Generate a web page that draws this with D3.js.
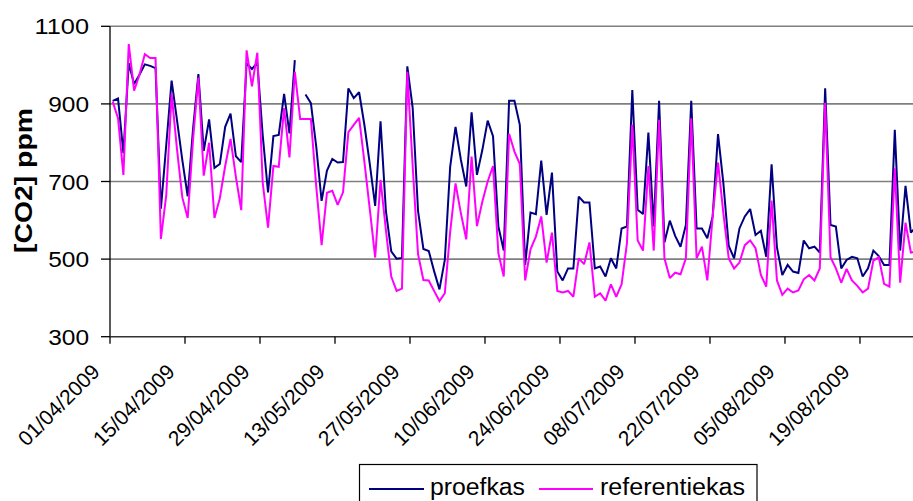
<!DOCTYPE html>
<html>
<head>
<meta charset="utf-8">
<script src="https://cdn.jsdelivr.net/npm/d3@7/dist/d3.min.js"></script>
<style>
  html, body { margin: 0; padding: 0; background: #fff; }
  svg { display: block; }
  text { font-family: "Liberation Sans", Arial, sans-serif; fill: #000; }
</style>
</head>
<body>
<svg id="chart" width="913" height="501"></svg>
<script>
// ---- data ----
const firstDay = "01/04/2009";
const lastDay = "29/08/2009";
const xTickLabels = ["01/04/2009","15/04/2009","29/04/2009","13/05/2009","27/05/2009",
  "10/06/2009","24/06/2009","08/07/2009","22/07/2009","05/08/2009","19/08/2009"];
const yTicks = [300, 500, 700, 900, 1100];
const seriesNames = ["proefkas", "referentiekas"];
const seriesColors = ["#000080", "#FF00FF"];

const proefkas = [
  908, 914, 773, 1005, 951, 975, 1002, 998, 992, 630,
  794, 960, 859, 755, 662, 835, 977, 779, 860, 735,
  745, 841, 875, 765, 750, 1004, 990, 1006, 820, 672,
  817, 820, 926, 824, 1013, null, 924, 902, 790, 650,
  728, 758, 749, 750, 940, 915, 930, 845, 745, 637,
  855, 624, 520, 501, 503, 997, 890, 624, 526, 521,
  469, 422, 498, 738, 841, 756, 687, 878, 717, 781,
  857, 817, 584, 522, 908, 908, 846, 485, 620, 616,
  754, 614, 723, 468, 445, 476, 476, 661, 646, 646,
  476, 481, 455, 502, 476, 579, 584, 936, 627, 616,
  826, 584, 908, 543, 599, 560, 532, 588, 908, 579,
  579, 554, 610, 822, 695, 534, 502, 579, 610, 629,
  562, 573, 506, 744, 530, 459, 485, 468, 464, 548,
  528, 532, 517, 940, 588, 584, 476, 498, 506, 502,
  455, 476, 522, 508, 485, 485, 833, 522, 689, 568,
  584
];
const referentiekas = [
  906, 863, 717, 1054, 934, 975, 1028, 1018, 1018, 552,
  665, 926, 784, 659, 606, 808, 968, 715, 800, 606,
  657, 740, 810, 712, 626, 1038, 945, 1032, 698, 581,
  740, 738, 889, 762, 983, 861, 861, 861, 687, 536,
  671, 676, 640, 672, 827, 846, 864, 749, 628, 504,
  704, 575, 455, 418, 424, 983, 740, 513, 446, 445,
  418, 392, 412, 570, 695, 618, 551, 764, 585, 648,
  700, 740, 515, 455, 823, 777, 745, 445, 525, 558,
  610, 491, 568, 418, 414, 418, 403, 502, 487, 543,
  403, 412, 393, 435, 403, 435, 541, 847, 548, 522,
  740, 522, 859, 502, 451, 465, 461, 502, 863, 502,
  532, 445, 610, 749, 618, 502, 476, 491, 536, 548,
  528, 459, 429, 651, 445, 408, 424, 414, 419, 448,
  459, 445, 476, 903, 505, 476, 439, 475, 445, 431,
  414, 424, 496, 505, 436, 429, 734, 439, 594, 517,
  519
];

// ---- layout ----
const svg = d3.select("#chart");
const plot = { left: 110, right: 913, top: 26.3, bottom: 336.7 };
const pxPerDay = 5.357;

const parse = d3.utcParse("%d/%m/%Y");
const start = parse(firstDay);
const end = d3.utcDay.offset(parse(lastDay), 1);
const days = d3.utcDay.range(start, end);
const nDays = days.length;

const x = d3.scaleUtc()
  .domain([start, end])
  .range([plot.left, plot.left + nDays * pxPerDay]);
const y = d3.scaleLinear().domain([300, 1100]).range([plot.bottom, plot.top]);

// gridlines
svg.append("g").selectAll("line")
  .data(yTicks.filter(v => v !== 300))
  .join("line")
  .attr("x1", plot.left).attr("x2", plot.right)
  .attr("y1", d => y(d)).attr("y2", d => y(d))
  .attr("stroke", "#7f7f7f").attr("stroke-width", 1.6);

// clip
svg.append("clipPath").attr("id", "clip").append("rect")
  .attr("x", plot.left).attr("y", 0).attr("width", plot.right - plot.left).attr("height", plot.bottom);

// series
const mid = d => d3.utcHour.offset(d, 12);
const series = [proefkas, referentiekas];
const line = d3.line()
  .defined(d => d.v != null)
  .x(d => x(mid(d.date)))
  .y(d => y(d.v));

series.forEach((vals, si) => {
  const pts = days.map((date, i) => ({ date, v: vals[i] === undefined ? null : vals[i] }));
  svg.append("path")
    .attr("clip-path", "url(#clip)")
    .attr("d", line(pts))
    .attr("fill", "none")
    .attr("stroke", seriesColors[si])
    .attr("stroke-width", 2)
    .attr("stroke-linejoin", "miter")
    .attr("stroke-miterlimit", 2);
});

// y axis
const yAxisG = svg.append("g");
yAxisG.append("line")
  .attr("x1", plot.left).attr("x2", plot.left)
  .attr("y1", plot.top).attr("y2", plot.bottom)
  .attr("stroke", "#000").attr("stroke-width", 1.3);
yAxisG.selectAll("line.tick").data(yTicks).join("line").attr("class", "tick")
  .attr("x1", plot.left - 9).attr("x2", plot.left)
  .attr("y1", d => y(d)).attr("y2", d => y(d))
  .attr("stroke", "#000").attr("stroke-width", 1.3);
yAxisG.selectAll("text").data(yTicks).join("text")
  .attr("x", 89).attr("y", d => y(d) + 8)
  .attr("text-anchor", "end")
  .attr("font-size", 22.5)
  .attr("textLength", d => String(d).length * 13.6)
  .attr("lengthAdjust", "spacingAndGlyphs")
  .text(d => d);

// x axis
const xAxisG = svg.append("g");
xAxisG.append("line")
  .attr("x1", plot.left).attr("x2", plot.right)
  .attr("y1", plot.bottom).attr("y2", plot.bottom)
  .attr("stroke", "#333").attr("stroke-width", 1.6);
const tickDates = xTickLabels.map(parse);
xAxisG.selectAll("line.tick").data(tickDates).join("line").attr("class", "tick")
  .attr("x1", d => x(d)).attr("x2", d => x(d))
  .attr("y1", plot.bottom).attr("y2", plot.bottom + 7)
  .attr("stroke", "#000").attr("stroke-width", 1.3);
xAxisG.selectAll("text").data(xTickLabels).join("text")
  .attr("transform", d => `translate(${x(parse(d)) - 9},373) rotate(-45)`)
  .attr("text-anchor", "end")
  .attr("font-size", 21)
  .text(d => d);

// y axis title
svg.append("text")
  .attr("transform", "translate(32,180.5) rotate(-90)")
  .attr("text-anchor", "middle")
  .attr("font-size", 24)
  .attr("font-weight", "bold")
  .attr("textLength", 145)
  .attr("lengthAdjust", "spacingAndGlyphs")
  .text("[CO2] ppm");

// legend
const lg = svg.append("g");
lg.append("rect")
  .attr("x", 359.5).attr("y", 464.5).attr("width", 397.5).attr("height", 50)
  .attr("fill", "#fff").attr("stroke", "#000").attr("stroke-width", 1.2);
const legendItems = [
  { x1: 369, x2: 424, tx: 430, tl: 95 },
  { x1: 539, x2: 593, tx: 600, tl: 145 }
];
legendItems.forEach((it, i) => {
  lg.append("line")
    .attr("x1", it.x1).attr("x2", it.x2).attr("y1", 489).attr("y2", 489)
    .attr("stroke", seriesColors[i]).attr("stroke-width", 2);
  lg.append("text")
    .attr("x", it.tx).attr("y", 494.5)
    .attr("font-size", 23)
    .attr("textLength", it.tl)
    .attr("lengthAdjust", "spacingAndGlyphs")
    .text(seriesNames[i]);
});
</script>
</body>
</html>
